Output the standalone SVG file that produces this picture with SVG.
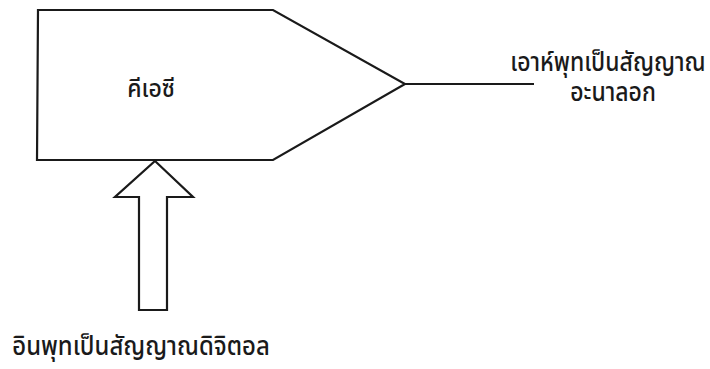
<svg xmlns="http://www.w3.org/2000/svg" width="710" height="369" viewBox="0 0 710 369">
<style>
.shape{fill:#ffffff;stroke:#1a1a1a;stroke-width:2.2;stroke-linejoin:miter}
.ln{stroke:#1a1a1a;stroke-width:2.2;fill:none}
text{font-family:"Noto Sans Thai","Noto Sans","DejaVu Sans",sans-serif;font-size:23px;font-weight:500;fill:#1a1a1a}
</style>
<rect width="710" height="369" fill="#ffffff"/>
<g id="dac">
<polygon class="shape" points="38,10 273,10 405,84 273,160 37,160"/>
<text transform="translate(151,97) scale(1,1.1)" text-anchor="middle">คีเอซี</text>
</g>
<g id="connectors">
<line class="ln" x1="405" y1="84" x2="534" y2="84"/>
<polygon id="input-arrow" class="shape" points="155,161 193,197 167,197 167,310 139,310 139,197 115,197"/>
</g>
<g id="output-label">
<text transform="scale(1,1.12)" text-anchor="middle"><tspan x="608" y="63.8">เอาห์พุทเป็นสัญญาณ</tspan><tspan x="613" y="90.2">อะนาลอก</tspan></text>
</g>
<g id="input-label">
<text transform="translate(141,355) scale(1.04,1.12)" text-anchor="middle">อินพุทเป็นสัญญาณดิจิตอล</text>
</g>
</svg>
